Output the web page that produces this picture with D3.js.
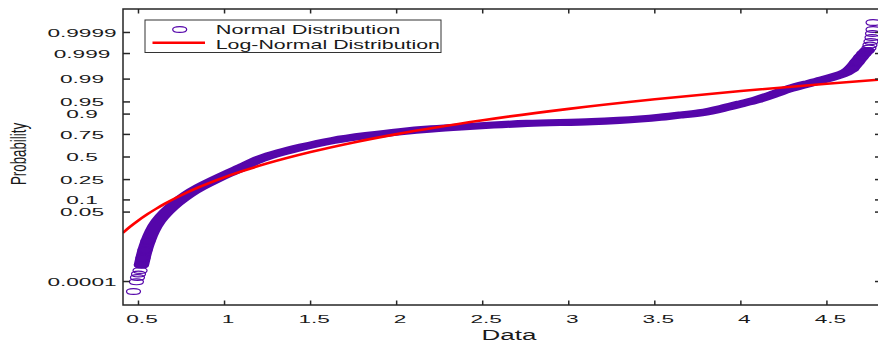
<!DOCTYPE html>
<html><head><meta charset="utf-8">
<script src="https://cdn.jsdelivr.net/npm/d3@7"></script>
<style>html,body{margin:0;padding:0;background:#fff;overflow:hidden}</style>
</head><body><svg id="c" width="878" height="342"></svg>
<script>
// ---- data ----
const xTicks = [0.5, 1, 1.5, 2, 2.5, 3, 3.5, 4, 4.5];
const xTickLabels = ["0.5", "1", "1.5", "2", "2.5", "3", "3.5", "4", "4.5"];
const yTicks = [0.0001, 0.05, 0.1, 0.25, 0.5, 0.75, 0.9, 0.95, 0.99, 0.999, 0.9999];
const yTickLabels = ["0.0001", "0.05", "0.1", "0.25", "0.5", "0.75", "0.9", "0.95", "0.99", "0.999", "0.9999"];
const seriesNames = ["Normal Distribution", "Log-Normal Distribution"];
const xLabel = "Data";
const yLabel = "Probability";

// Normal Distribution probability-plot points (data value, probability)
const normalX = [0.471, 0.488, 0.494, 0.500, 0.509, 0.517, 0.526, 0.538, 0.555, 0.579,
  0.613, 0.660, 0.718, 0.788, 0.857, 0.933, 1.020, 1.113, 1.206, 1.322,
  1.438, 1.630, 1.828, 2.020, 2.211, 2.368, 2.560, 2.758, 2.949, 3.141,
  3.298, 3.414, 3.530, 3.647, 3.763, 3.897, 3.995, 4.094, 4.187, 4.286,
  4.384, 4.477, 4.558, 4.616, 4.645, 4.675, 4.698, 4.715, 4.733, 4.744,
  4.750, 4.756, 4.762, 4.765, 4.768, 4.768];
const normalP = [0.0000295, 0.000096, 0.00016, 0.000237, 0.00035, 0.00063, 0.00128, 0.00274, 0.00605, 0.01355,
  0.0279, 0.0502, 0.0847, 0.1346, 0.1851, 0.2413, 0.3110, 0.3882, 0.4820, 0.5535,
  0.6117, 0.6942, 0.7396, 0.7769, 0.8010, 0.8149, 0.8304, 0.8430, 0.8486, 0.8541,
  0.8635, 0.8718, 0.8821, 0.8952, 0.9041, 0.9271, 0.9433, 0.9557, 0.9690, 0.9799,
  0.9854, 0.9893, 0.9922, 0.9942, 0.9959, 0.99773, 0.99859, 0.999003, 0.999266, 0.999435,
  0.999589, 0.99972, 0.99982, 0.999887, 0.99993, 0.9999705];

// Log-Normal Distribution fitted curve (data value, probability)
const logNormalX = [0.41, 0.45, 0.5, 0.55, 0.6, 0.65, 0.75, 0.85, 1, 1.1, 1.25, 1.5, 1.75, 2, 2.5, 3, 3.5, 4, 4.5, 4.82];
const logNormalP = [0.0119, 0.01844, 0.0293, 0.04324, 0.0602, 0.0802, 0.1275, 0.1826, 0.273, 0.3348, 0.425, 0.559, 0.6685, 0.753, 0.864, 0.9247, 0.9576, 0.9757, 0.9857, 0.98978];

// ---- helpers ----
function probit(p) {
  const a = [-3.969683028665376e+01, 2.209460984245205e+02, -2.759285104469687e+02, 1.383577518672690e+02, -3.066479806614716e+01, 2.506628277459239e+00];
  const b = [-5.447609879822406e+01, 1.615858368580409e+02, -1.556989798598866e+02, 6.680131188771972e+01, -1.328068155288572e+01];
  const c = [-7.784894002430293e-03, -3.223964580411365e-01, -2.400758277161838e+00, -2.549732539343734e+00, 4.374664141464968e+00, 2.938163982698783e+00];
  const d = [7.784695709041462e-03, 3.224671290700398e-01, 2.445134137142996e+00, 3.754408661907416e+00];
  const pl = 0.02425, ph = 1 - pl;
  let q, r;
  if (p < pl) { q = Math.sqrt(-2 * Math.log(p)); return (((((c[0]*q+c[1])*q+c[2])*q+c[3])*q+c[4])*q+c[5]) / ((((d[0]*q+d[1])*q+d[2])*q+d[3])*q+1); }
  if (p <= ph) { q = p - 0.5; r = q*q; return (((((a[0]*r+a[1])*r+a[2])*r+a[3])*r+a[4])*r+a[5])*q / (((((b[0]*r+b[1])*r+b[2])*r+b[3])*r+b[4])*r+1); }
  q = Math.sqrt(-2 * Math.log(1 - p)); return -(((((c[0]*q+c[1])*q+c[2])*q+c[3])*q+c[4])*q+c[5]) / ((((d[0]*q+d[1])*q+d[2])*q+d[3])*q+1);
}

const svg = d3.select("#c");
const L = 123, R = 882, T = 9, B = 305;
const x = d3.scaleLinear().domain([0.41, 4.82]).range([L, R]);
const zs = d3.scaleLinear().domain([-4.42, 4.42]).range([B, T]);
const y = p => zs(probit(p));

const purple = "#5506aa";
const red = "#ff0000";
const axisColor = "#262626";
const font = "'Liberation Sans', Arial, Helvetica, sans-serif";

svg.append("defs").append("clipPath").attr("id", "clip")
  .append("rect").attr("x", L).attr("y", T).attr("width", R - L).attr("height", B - T);
const plot = svg.append("g").attr("clip-path", "url(#clip)");

// band (dense overlapping markers)
const kx = 2.14;
const bandIdx = d3.range(5, 49);
const bandLine = d3.line().x(i => x(normalX[i]) / kx).y(i => y(normalP[i])).curve(d3.curveBasis);
plot.append("g").attr("transform", `scale(${kx},1)`)
  .append("path").attr("d", bandLine(bandIdx))
  .attr("fill", "none").attr("stroke", purple).attr("stroke-width", 7.2)
  .attr("stroke-linecap", "round").attr("stroke-linejoin", "round");

// individual markers (tails)
const markerIdx = d3.range(0, 9).concat(d3.range(44, normalX.length));
plot.append("g").selectAll("ellipse").data(markerIdx).join("ellipse")
  .attr("cx", i => x(normalX[i])).attr("cy", i => y(normalP[i]))
  .attr("rx", 7).attr("ry", 2.9)
  .attr("fill", "none").attr("stroke", purple).attr("stroke-width", 1.2);

// log-normal line
const redLine = d3.line().x(v => x(v)).y((v, i) => y(logNormalP[i])).curve(d3.curveMonotoneX);
plot.append("path").attr("d", redLine(logNormalX))
  .attr("fill", "none").attr("stroke", red).attr("stroke-width", 2.6);

// axes box
const ax = svg.append("g").attr("stroke", axisColor).attr("stroke-width", 1.5).attr("fill", "none");
ax.append("rect").attr("x", L).attr("y", T).attr("width", R - L).attr("height", B - T);
xTicks.forEach(v => {
  ax.append("line").attr("x1", x(v)).attr("x2", x(v)).attr("y1", B).attr("y2", B - 4.5);
  ax.append("line").attr("x1", x(v)).attr("x2", x(v)).attr("y1", T).attr("y2", T + 4.5);
});
yTicks.forEach(p => {
  ax.append("line").attr("x1", L).attr("x2", L + 7).attr("y1", y(p)).attr("y2", y(p));
  ax.append("line").attr("x1", R).attr("x2", R - 7).attr("y1", y(p)).attr("y2", y(p));
});

function stext(parent, str, tx, ty, size, sx, anchor) {
  return parent.append("text").text(str)
    .attr("transform", `translate(${tx},${ty}) scale(${sx},1)`)
    .attr("text-anchor", anchor).attr("font-family", font).attr("font-size", size)
    .attr("fill", "#1a1a1a");
}
const tg = svg.append("g");
xTicks.forEach((v, i) => stext(tg, xTickLabels[i], x(v) + 3.5, 323.3, 11.6, 1.95, "middle"));
yTicks.forEach((p, i) => stext(tg, yTickLabels[i], 82, y(p) + 4.2, 11.6, 1.95, "middle"));

stext(tg, xLabel, 509, 340, 14.5, 1.79, "middle");
tg.append("text").text(yLabel)
  .attr("transform", "translate(25.5,154) rotate(-90) scale(1,1.6)")
  .attr("text-anchor", "middle").attr("font-family", font).attr("font-size", 13.3).attr("fill", "#1a1a1a");

// legend
const lg = svg.append("g");
lg.append("rect").attr("x", 145).attr("y", 20).attr("width", 296).attr("height", 32.5)
  .attr("fill", "#fff").attr("stroke", "#333").attr("stroke-width", 1);
lg.append("ellipse").attr("cx", 179.7).attr("cy", 29.5).attr("rx", 7).attr("ry", 2.9)
  .attr("fill", "none").attr("stroke", purple).attr("stroke-width", 1.2);
lg.append("line").attr("x1", 152.5).attr("x2", 205).attr("y1", 42.8).attr("y2", 42.8)
  .attr("stroke", red).attr("stroke-width", 2.6);
stext(lg, seriesNames[0], 215.7, 34.3, 12.2, 1.78, "start");
stext(lg, seriesNames[1], 215.7, 48.7, 12, 1.78, "start");
</script></body></html>
